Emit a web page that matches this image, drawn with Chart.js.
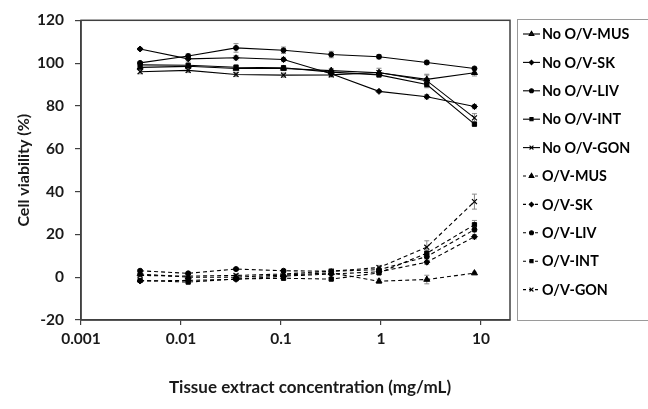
<!DOCTYPE html>
<html>
<head>
<meta charset="utf-8">
<script src="https://cdn.jsdelivr.net/npm/chart.js@4/dist/chart.umd.min.js"></script>
<style>
  html, body { margin: 0; padding: 0; background: #fff; }
  #wrap { width: 648px; height: 409px; position: relative; }
</style>
</head>
<body>
<div id="wrap"><canvas id="c" width="648" height="409"></canvas></div>
<script>
// Concentrations (mg/mL)
const concentrations = [0.0039, 0.0118, 0.0355, 0.106, 0.318, 0.955, 2.87, 8.6];
const xTickValues = [0.001, 0.01, 0.1, 1, 10];
const xTickLabels = ['0.001', '0.01', '0.1', '1', '10'];

const seriesLabels = ['No O/V-MUS', 'No O/V-SK', 'No O/V-LIV', 'No O/V-INT', 'No O/V-GON',
                      'O/V-MUS', 'O/V-SK', 'O/V-LIV', 'O/V-INT', 'O/V-GON'];

const noOV_MUS = [98, 98.5, 97.5, 97.5, 96.5, 95.5, 92.4, 95.5];
const noOV_SK  = [106.6, 102, 102.5, 101.7, 95, 86.8, 84.3, 79.7];
const noOV_LIV = [100.1, 103.3, 107.1, 106, 104, 103, 100.3, 97.5];
const noOV_INT = [99.2, 99, 98.1, 97.8, 95.8, 94.5, 90, 71.5];
const noOV_GON = [96, 96.6, 94.7, 94.4, 94.5, 95.6, 91.8, 74.4];
const OV_MUS = [1.5, 0, 0, 1, 2, -1.9, -1.1, 1.9];
const OV_SK  = [-1.8, -1.5, -1, 0.5, 1.5, 2.5, 7, 18.9];
const OV_LIV = [3, 1.8, 3.8, 3, 2.8, 3.5, 9.6, 22.2];
const OV_INT = [-1.5, -2.3, -0.8, -0.5, -0.9, 2, 11.2, 24.5];
const OV_GON = [0.8, 0.5, 0.8, 1.5, 2.8, 4.5, 14, 35.3];

// error bars (± SD)
const err_noOV_MUS = [1, 1, 1, 1, 1, 1, 2, 1.5];
const err_noOV_SK  = [0.5, 1, 1, 1, 1, 0.5, 1, 1];
const err_noOV_LIV = [0.5, 1, 2, 1.5, 1.5, 1, 1, 0.5];
const err_noOV_INT = [1, 1, 1, 1, 1, 1, 1.5, 1];
const err_noOV_GON = [1, 1, 1, 1, 1, 2, 3, 2];
const err_OV_MUS = [0.5, 0.5, 0.5, 0.5, 0.5, 1, 2, 0.5];
const err_OV_SK  = [0.5, 0.5, 0.5, 0.5, 0.5, 0.5, 1, 1];
const err_OV_LIV = [0.5, 0.5, 0.5, 0.5, 0.5, 0.5, 1, 1];
const err_OV_INT = [0.5, 0.5, 0.5, 0.5, 0.5, 0.5, 1.5, 2];
const err_OV_GON = [0.5, 0.5, 0.5, 0.5, 0.5, 1, 3, 3.5];

const allValues = [noOV_MUS, noOV_SK, noOV_LIV, noOV_INT, noOV_GON, OV_MUS, OV_SK, OV_LIV, OV_INT, OV_GON];
const allErrors = [err_noOV_MUS, err_noOV_SK, err_noOV_LIV, err_noOV_INT, err_noOV_GON,
                   err_OV_MUS, err_OV_SK, err_OV_LIV, err_OV_INT, err_OV_GON];
const markerStyles = ['triangle', 'rectRot', 'circle', 'rect', 'crossRot'];
const markerRadius = [3.5, 3, 2.5, 3, 3.5];

const FONT = 'Lato, "Open Sans", "Liberation Sans", sans-serif';

const datasets = allValues.map((vals, i) => {
  const k = i % 5;
  const dashed = i >= 5;
  return {
    label: seriesLabels[i],
    data: vals.map((v, j) => ({ x: concentrations[j], y: v })),
    errors: allErrors[i],
    borderColor: '#000',
    backgroundColor: '#000',
    borderWidth: 1.1,
    borderDash: dashed ? [4, 3] : [],
    pointStyle: markerStyles[k],
    pointRadius: markerRadius[k],
    pointBorderWidth: k === 4 ? 1.2 : 1,
    pointBackgroundColor: '#000',
    pointBorderColor: '#000',
    tension: 0,
    fill: false
  };
});

const errorBarPlugin = {
  id: 'errorBars',
  beforeDatasetsDraw(chart) {
    const ctx = chart.ctx;
    const xs = chart.scales.x, ys = chart.scales.y;
    ctx.save();
    ctx.strokeStyle = '#8a8a8a';
    ctx.lineWidth = 1;
    chart.data.datasets.forEach(ds => {
      ds.data.forEach((p, j) => {
        const e = ds.errors[j];
        if (!e) return;
        const px = xs.getPixelForValue(p.x);
        const y1 = ys.getPixelForValue(p.y + e);
        const y2 = ys.getPixelForValue(p.y - e);
        ctx.beginPath();
        ctx.moveTo(px, y1); ctx.lineTo(px, y2);
        ctx.moveTo(px - 2.5, y1); ctx.lineTo(px + 2.5, y1);
        ctx.moveTo(px - 2.5, y2); ctx.lineTo(px + 2.5, y2);
        ctx.stroke();
      });
    });
    ctx.restore();
  }
};

const framePlugin = {
  id: 'frame',
  afterDraw(chart) {
    const ctx = chart.ctx;
    const a = chart.chartArea;
    ctx.save();
    // plot area border
    ctx.strokeStyle = '#404040';
    ctx.lineWidth = 1.5;
    ctx.strokeRect(a.left, a.top, a.right - a.left, a.bottom - a.top);

    // x axis title
    ctx.fillStyle = '#1a1a1a';
    ctx.font = 'bold 17px ' + FONT;
    ctx.textAlign = 'center';
    ctx.textBaseline = 'middle';
    ctx.fillText('Tissue extract concentration (mg/mL)', 310, 388);

    // legend
    const lx = 517.5, ly = 19.5, lw = 140, lh = 301;
    ctx.strokeStyle = '#9a9a9a';
    ctx.lineWidth = 1;
    ctx.strokeRect(lx, ly, lw, lh);
    const y0 = 34, step = 28.4;
    chart.data.datasets.forEach((ds, i) => {
      const y = y0 + i * step;
      ctx.strokeStyle = '#000';
      ctx.lineWidth = 1.1;
      ctx.setLineDash(ds.borderDash && ds.borderDash.length ? [3, 3] : []);
      ctx.beginPath();
      ctx.moveTo(523, y); ctx.lineTo(540, y);
      ctx.stroke();
      ctx.setLineDash([]);
      Chart.helpers.drawPoint(ctx, {
        pointStyle: ds.pointStyle,
        radius: Math.max(2, ds.pointRadius - 0.8),
        borderWidth: 1
      }, 531.5, y);
      ctx.fillStyle = '#000';
      ctx.font = 'bold 14.3px ' + FONT;
      ctx.textAlign = 'left';
      ctx.textBaseline = 'middle';
      ctx.fillText(ds.label, 542, y + 0.5);
    });
    ctx.restore();
  }
};

new Chart(document.getElementById('c'), {
  type: 'line',
  data: { datasets },
  plugins: [errorBarPlugin, framePlugin],
  options: {
    responsive: false,
    animation: false,
    devicePixelRatio: 1,
    layout: { padding: { top: 19, right: 138, left: 0, bottom: 0 } },
    plugins: { legend: { display: false }, tooltip: { enabled: false } },
    scales: {
      x: {
        type: 'logarithmic',
        min: 0.001,
        max: 19.5,
        afterBuildTicks(scale) {
          scale.ticks = xTickValues.map(v => ({ value: v }));
        },
        afterFit(scale) { scale.height = 89; },
        ticks: {
          autoSkip: false,
          maxRotation: 0,
          padding: 5,
          color: '#1a1a1a',
          font: { family: FONT, size: 15.5, weight: 'bold' },
          callback(value) {
            const idx = xTickValues.indexOf(value);
            return idx >= 0 ? xTickLabels[idx] : '';
          }
        },
        grid: { drawOnChartArea: false, drawTicks: true, tickLength: 5, color: '#404040', lineWidth: 1.2 },
        border: { display: true, color: '#404040', width: 1.5 }
      },
      y: {
        min: -20,
        max: 120,
        afterFit(scale) { scale.width = 81; },
        ticks: {
          stepSize: 20,
          padding: 11,
          color: '#1a1a1a',
          font: { family: FONT, size: 15.5, weight: 'bold' }
        },
        title: {
          display: true,
          text: 'Cell viability (%)',
          color: '#1a1a1a',
          font: { family: FONT, size: 16, weight: 'bold' },
          padding: { top: 14, bottom: 0 }
        },
        grid: { drawOnChartArea: false, drawTicks: true, tickLength: 6, color: '#404040', lineWidth: 1.2 },
        border: { display: true, color: '#404040', width: 1.5 }
      }
    }
  }
});
</script>
</body>
</html>
